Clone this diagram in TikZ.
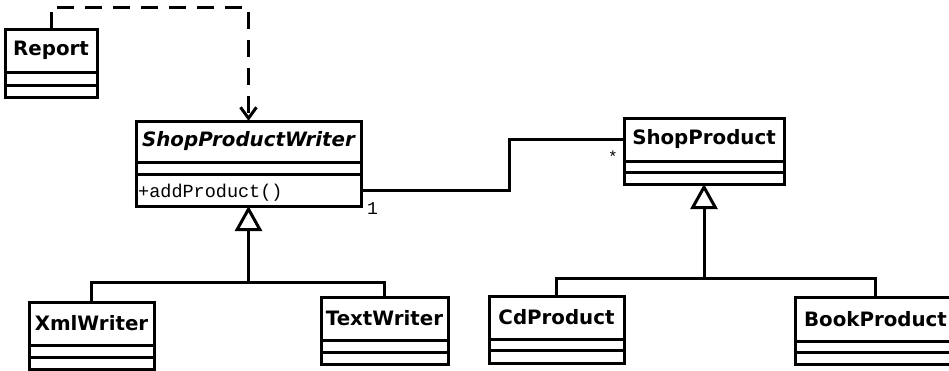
\documentclass[tikz,border=0pt]{standalone}
\usepackage{fontspec}
\setmainfont{DejaVu Sans}
\newfontfamily\monof{Liberation Mono}
\usetikzlibrary{arrows.meta,fit}
\newcommand\umlclass[8]{%
  \node[namebox, fit={(#2,#3) (#4,#5)}] (#1) {};
  \node[nametext] (#1-t) at (#1.center) {#8};
  \draw[boxline] (#2,#3) rectangle (#4,#7);
  \draw[boxline] (#2,#5) -- (#4,#5) (#2,#6) -- (#4,#6);
  \coordinate (#1-b) at ({(#2+#4)/2},#7);
}
\begin{document}
\begin{tikzpicture}[x=1pt,y=-1pt,
  namebox/.style={inner sep=0pt, draw=none},
  nametext/.style={inner sep=0pt, font=\fontsize{19.8}{22}\selectfont\bfseries},
  boxline/.style={line width=3pt, line join=miter},
  conn/.style={line width=3pt},
  dep/.style={conn, dash pattern=on 17pt off 11pt, -{Straight Barb[length=11pt,width=16pt]}},
  gen/.style={conn, -{Triangle[open,length=25pt,width=27pt,fill=white]}},
  monotext/.style={inner sep=0pt, font=\monof\fontsize{18.5}{20}\selectfont},
  multtext/.style={inner sep=0pt, font=\monof\fontsize{18}{20}\selectfont}]
\useasboundingbox (0,0) rectangle (949,370);
% classes
\umlclass{report}{5}{29}{97}{72}{85}{97}{Report}
\umlclass{spw}{136}{121}{361}{162}{174}{206}{\itshape ShopProductWriter}
\umlclass{sp}{624}{118}{784}{161}{172}{184}{ShopProduct}
\umlclass{xml}{29}{302}{154}{345}{357}{369}{XmlWriter}
\umlclass{textw}{321}{297}{448}{340}{352}{364}{TextWriter}
\umlclass{cd}{489}{296}{624}{339}{350}{363}{CdProduct}
\umlclass{book}{795}{297}{956}{341}{352}{364}{BookProduct}
\node[monotext, anchor=base west] (spwop) at (138,197) {+addProduct()};
% dependency
\coordinate (dtop) at (0,7);
\draw[dep] (report.north) -- (report.north |- dtop) -- (spw.north |- dtop) -- (spw.north);
% association
\coordinate (aend) at (361,190);
\coordinate (abend) at (509,190);
\draw[conn] (aend) -- (abend) |- (sp.west);
\node[multtext, anchor=base] (mone) at (372.5,214) {1};
\node[multtext, font=\monof\fontsize{16}{18}\selectfont] (mstar) at (613,157) {*};
% generalisations
\coordinate (j1) at (248.5,282);
\coordinate (j2) at (704,278);
\draw[conn] (xml.north) |- (j1) -| (textw.north);
\draw[gen] (j1) -- (spw-b);
\draw[conn] (cd.north) |- (j2) -| (book.north);
\draw[gen] (j2) -- (sp-b);
\end{tikzpicture}
\end{document}
